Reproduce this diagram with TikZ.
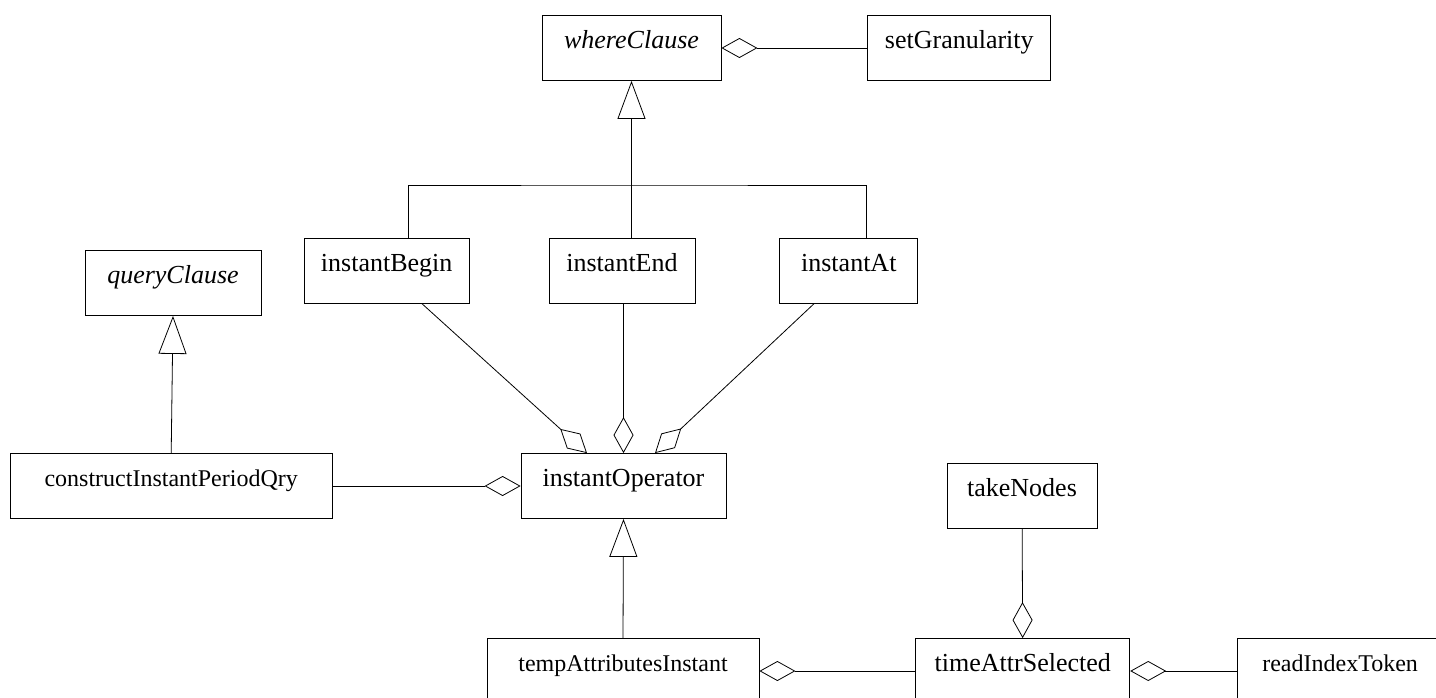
\documentclass[tikz,border=0pt]{standalone}
\usepackage{fontspec}
\setmainfont{Liberation Serif}
\usetikzlibrary{arrows.meta, positioning}
\tikzset{
	cls/.style={rectangle, draw=black, line width=0.8pt, inner xsep=4pt, inner ysep=0pt, text height=33pt, text depth=32pt, font=\fontsize{26}{30}\selectfont},
	smallcls/.style={cls, font=\fontsize{24}{28}\selectfont},
	abstractcls/.style={cls, font=\fontsize{26}{30}\selectfont\itshape},
	gen/.style={-{Triangle[open, length=38pt, width=28pt]}, line width=0.8pt},
	agg/.style={-{Diamond[open, length=36pt, width=20pt]}, line width=0.8pt},
	plain/.style={line width=0.8pt},
}

\begin{document}
\begin{tikzpicture}[x=1pt, y=-1pt]
		\useasboundingbox (0,0) rectangle (1436,698);
		\clip (0,0) rectangle (1436,698);
		% upper part
		\node[abstractcls, minimum width=179pt] (whereClause) at (631.5,48) {whereClause};
		\node[cls, minimum width=183pt, right=146pt of whereClause] (setGranularity) {setGranularity};
		\node[cls, minimum width=146pt] (instantEnd) at (622,271) {instantEnd};
		\node[cls, minimum width=165pt, left=79pt of instantEnd] (instantBegin) {instantBegin};
		\node[cls, minimum width=138pt, right=84pt of instantEnd] (instantAt) {instantAt};
		\node[abstractcls, minimum width=176pt] (queryClause) at (173,283) {queryClause};
		% middle
		\node[cls, minimum width=205pt] (instantOperator) at (623.5,486) {instantOperator};
		\node[smallcls, minimum width=322pt, left=188pt of instantOperator] (constructInstantPeriodQry) {constructInstantPeriodQry};
		\node[cls, minimum width=150pt] (takeNodes) at (1022,496) {takeNodes};
		% bottom row
		\node[smallcls, minimum width=272pt] (tempAttributesInstant) at (623,671) {tempAttributesInstant};
		\node[cls, minimum width=214pt, right=156pt of tempAttributesInstant] (timeAttrSelected) {timeAttrSelected};
		\node[smallcls, minimum width=205pt, right=107pt of timeAttrSelected] (readIndexToken) {readIndexToken};
		% generalisations
		\coordinate (hub) at (631.5,185);
		\draw[plain] ([xshift=21.5pt]instantBegin.north) |- (hub) -| ([xshift=18pt]instantAt.north);
		\draw[plain] (hub) -- (hub |- instantEnd.north);
		\draw[gen] (hub) -- (whereClause);
		\draw[gen] (constructInstantPeriodQry.north) -- (queryClause.south);
		\draw[gen] (tempAttributesInstant.north) -- (instantOperator.south);
		% aggregations
		\draw[agg] (setGranularity) -- (whereClause);
		\draw[agg] (constructInstantPeriodQry) -- (instantOperator);
		\draw[agg] ([xshift=35.5pt]instantBegin.south) -- ([xshift=-36.5pt]instantOperator.north);
		\draw[agg] (instantEnd.south -| instantOperator.north) -- (instantOperator.north);
		\draw[agg] ([xshift=-35pt]instantAt.south) -- ([xshift=31.5pt]instantOperator.north);
		\draw[agg] (takeNodes) -- (timeAttrSelected);
		\draw[agg] (timeAttrSelected) -- (tempAttributesInstant);
		\draw[agg] (readIndexToken) -- (timeAttrSelected);
	\end{tikzpicture}
\end{document}
